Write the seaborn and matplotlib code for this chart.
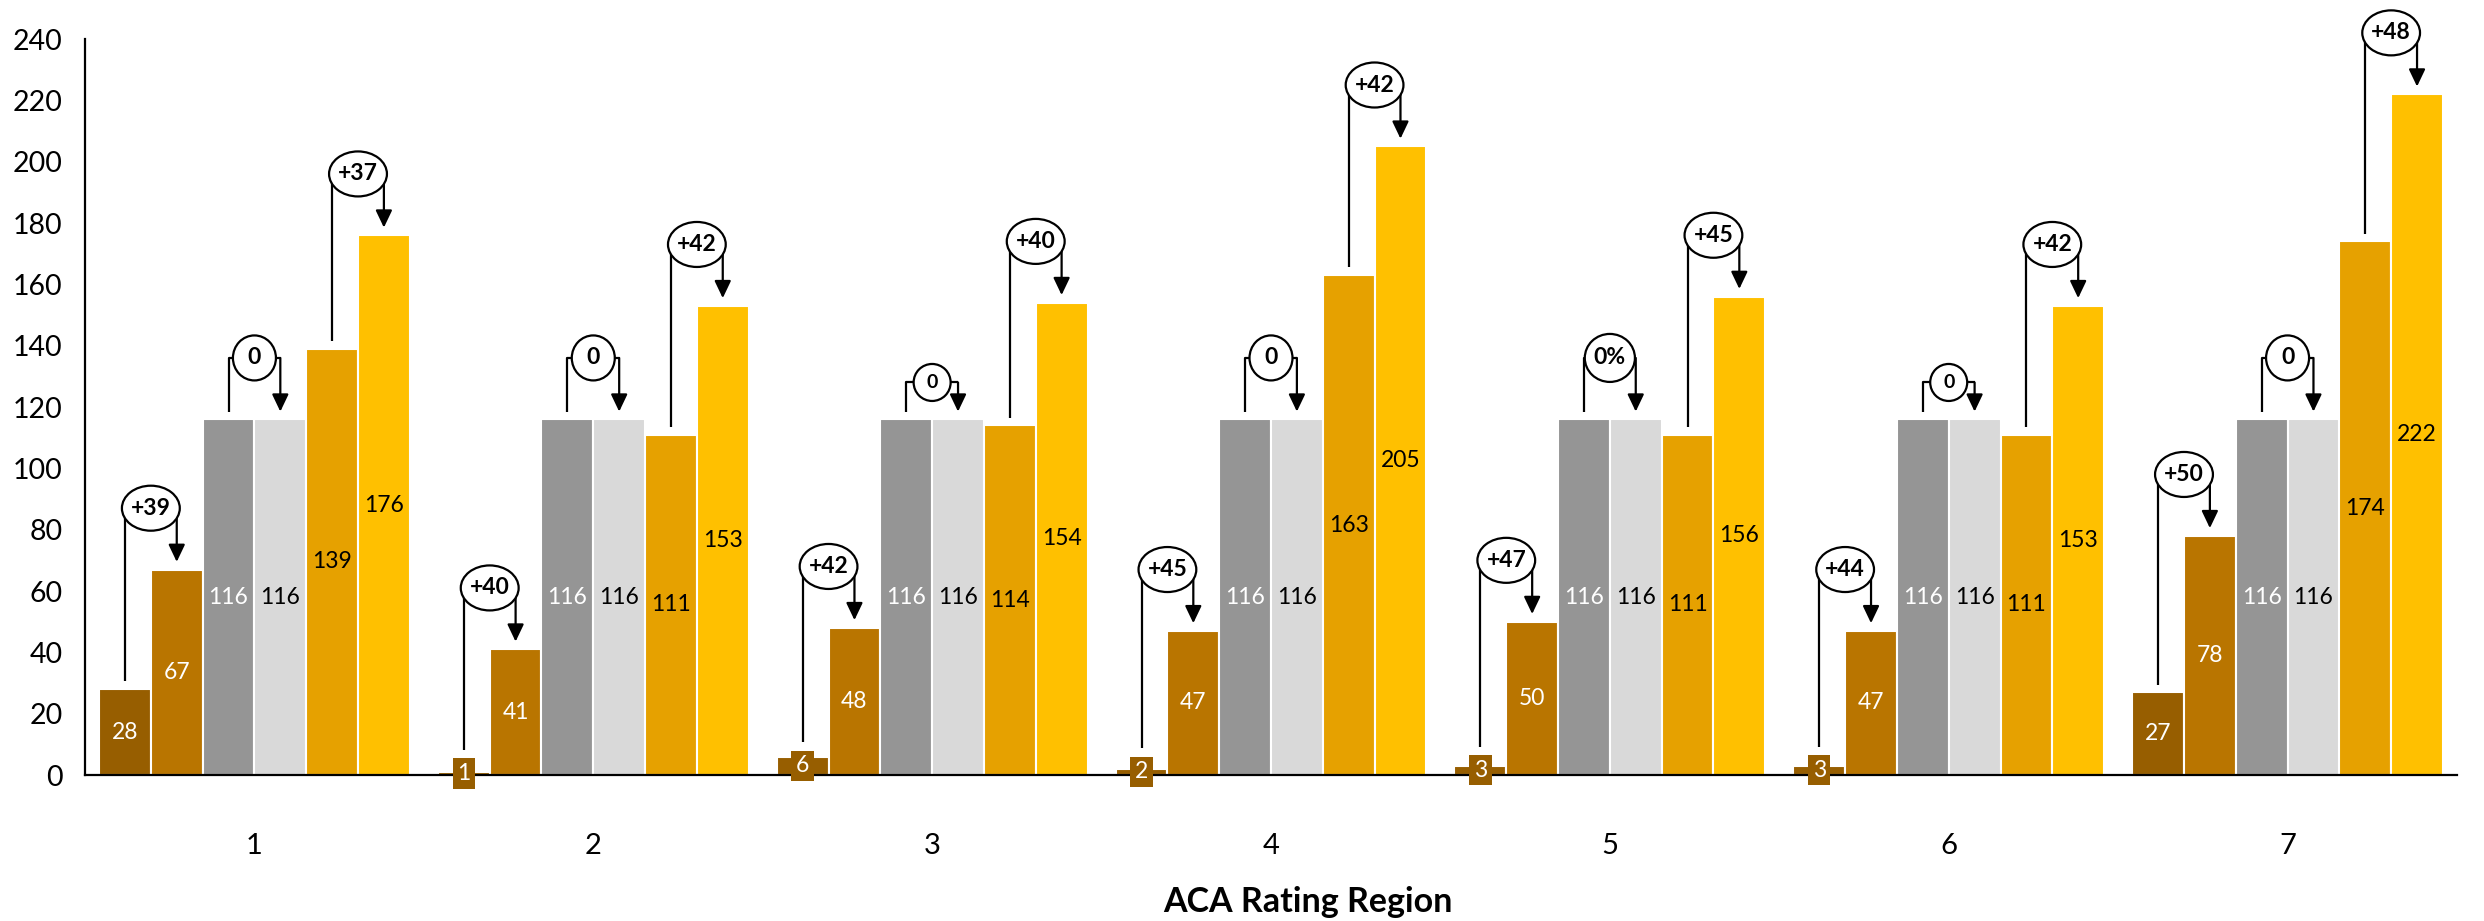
import matplotlib
matplotlib.use("Agg")
import matplotlib.pyplot as plt
from matplotlib.patches import Ellipse
from matplotlib.transforms import ScaledTranslation
import pandas as pd
import seaborn as sns

# ---- data -------------------------------------------------------------
regions = ["1", "2", "3", "4", "5", "6", "7"]
series_names = ["Series 1", "Series 2", "Series 3", "Series 4", "Series 5", "Series 6"]

series_1 = [28, 1, 6, 2, 3, 3, 27]
series_2 = [67, 41, 48, 47, 50, 47, 78]
series_3 = [116, 116, 116, 116, 116, 116, 116]
series_4 = [116, 116, 116, 116, 116, 116, 116]
series_5 = [139, 111, 114, 163, 111, 111, 174]
series_6 = [176, 153, 154, 205, 156, 153, 222]

change_1_2 = ["+39", "+40", "+42", "+45", "+47", "+44", "+50"]
change_3_4 = ["0", "0", "0", "0", "0%", "0", "0"]
change_5_6 = ["+37", "+42", "+40", "+42", "+45", "+42", "+48"]

y_ticks = [0, 20, 40, 60, 80, 100, 120, 140, 160, 180, 200, 220, 240]
x_title = "ACA Rating Region"

# ---- styling ----------------------------------------------------------
palette = ["#975E00", "#B97500", "#959595", "#D9D9D9", "#E6A100", "#FFC000"]
label_colors = ["white", "white", "white", "black", "black", "black"]
FONT = ["Lato", "DejaVu Sans"]

sns.set_theme(style="white")
plt.rcParams["font.family"] = FONT

values = [series_1, series_2, series_3, series_4, series_5, series_6]
df = pd.DataFrame(
    [
        {"region": r, "series": s, "value": v}
        for s, vals in zip(series_names, values)
        for r, v in zip(regions, vals)
    ]
)

W, H, DPI = 2484, 921, 100
fig = plt.figure(figsize=(W / DPI, H / DPI), dpi=DPI)
ax = fig.add_axes([85 / W, (H - 775) / H, (2457 - 85) / W, (775 - 39) / H])

sns.barplot(
    data=df, x="region", y="value", hue="series",
    order=regions, hue_order=series_names, palette=palette,
    width=0.917, gap=0, saturation=1, errorbar=None,
    edgecolor="white", linewidth=1.5, legend=False, ax=ax,
)

ax.set_xlim(-0.5, 6.5)
ax.set_ylim(0, 240)
ax.set_yticks(y_ticks)
ax.set_yticklabels([str(t) for t in y_ticks])
ax.tick_params(axis="y", length=0, pad=16, labelsize=20.5, labelcolor="black")
ax.tick_params(axis="x", length=0, pad=42, labelsize=21, labelcolor="black")
ax.set_xlabel(x_title, fontsize=24.5, fontweight="bold", labelpad=19, color="black")
ax.xaxis.label.set_x((1308 - 85) / (2457 - 85))
ax.set_ylabel("")
sns.despine(ax=ax)
for side in ("left", "bottom"):
    ax.spines[side].set_color("black")
    ax.spines[side].set_linewidth(1.6)

# value labels in the middle of each bar
for k, cont in enumerate(ax.containers):
    kw = dict(label_type="center", fontsize=16.5, color=label_colors[k])
    if k == 0:
        kw["bbox"] = dict(boxstyle="square,pad=0.2", facecolor=palette[0], edgecolor="none")
    ax.bar_label(cont, labels=[f"{b.get_height():.0f}" for b in cont], **kw)

# change badges: bracket from one bar to its neighbour with an oval label
renderer = fig.canvas.get_renderer()
px_per_unit = ax.bbox.height / 240.0
box_half = 16 / px_per_unit          # half height of the boxed labels, in data units
pairs = [(0, 1, change_1_2), (2, 3, change_3_4), (4, 5, change_5_6)]
compact = {(1, 2), (1, 5)}           # (pair index, region index) drawn smaller

for p, (a, b, labels) in enumerate(pairs):
    for i in range(len(regions)):
        bar_a = ax.containers[a][i]
        bar_b = ax.containers[b][i]
        x1 = bar_a.get_x() + bar_a.get_width() / 2
        x2 = bar_b.get_x() + bar_b.get_width() / 2
        v1, v2 = bar_a.get_height(), bar_b.get_height()
        small = (p, i) in compact
        rise = 12 if small else 20
        fs = 14 if small else 16.5
        yc = max(v1, v2) + rise
        xc = (x1 + x2) / 2

        start = v1 + 2.5
        if a == 0:
            start = max(v1, v1 / 2 + box_half) + 2.5
        ax.plot([x1, x1, x2], [start, yc, yc], color="black", lw=1.6,
                zorder=3, solid_capstyle="butt")
        ax.annotate(
            "", xy=(x2, v2 + 2.5), xytext=(x2, yc),
            arrowprops=dict(arrowstyle="-|>,head_length=1.05,head_width=0.5",
                            color="black", lw=1.6, shrinkA=0, shrinkB=0,
                            mutation_scale=10),
            zorder=3,
        )
        t = ax.text(xc, yc, labels[i], ha="center", va="center", fontsize=fs,
                    fontweight="bold", color="black", zorder=6)
        tw = t.get_window_extent(renderer=renderer).width
        if small:
            ew, eh = max(37, tw + 16), 37
        else:
            ew = max(43, tw + 18)
            eh = 48 if 46 <= ew <= 54 else 45
        ell = Ellipse((0, 0), ew / DPI, eh / DPI,
                      transform=fig.dpi_scale_trans + ScaledTranslation(xc, yc, ax.transData),
                      facecolor="white", edgecolor="black", lw=1.6, zorder=5, clip_on=False)
        ax.add_artist(ell)

fig.savefig("out.png", dpi=DPI, facecolor="white")
